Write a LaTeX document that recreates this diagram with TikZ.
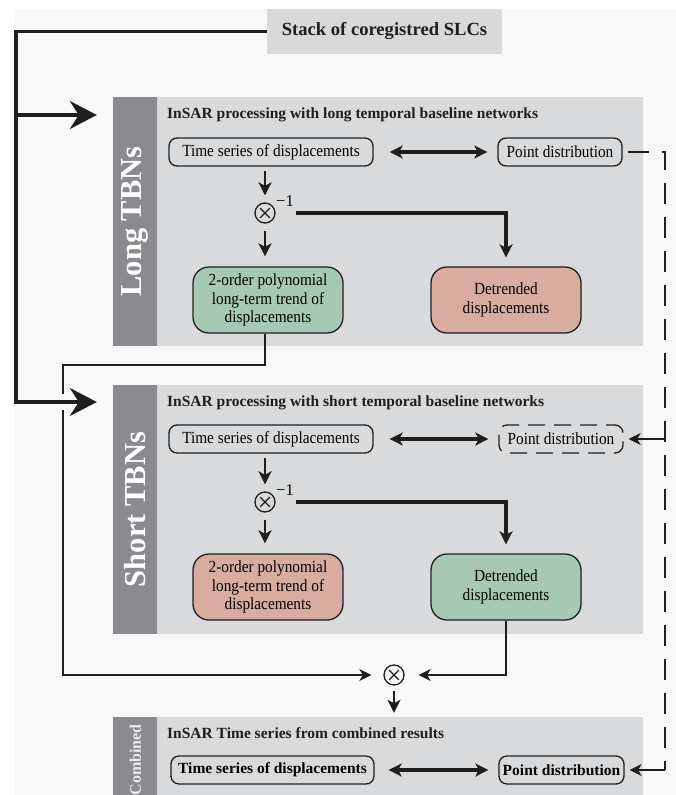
\documentclass[tikz,border=0pt]{standalone}
\usepackage{fontspec}
\setmainfont{Liberation Serif}
\newfontfamily\condfont{Liberation Serif}[FakeStretch=0.9]
\usetikzlibrary{arrows.meta,calc}
\definecolor{bgc}{HTML}{F8F8F8}
\definecolor{panelc}{HTML}{D8DADC}
\definecolor{sidec}{HTML}{8B8B8F}
\definecolor{topc}{HTML}{D8D9DB}
\definecolor{greenc}{HTML}{A8C8B6}
\definecolor{pinkc}{HTML}{D9ACA2}
\definecolor{linec}{HTML}{1E1E1E}
\tikzset{
  panel/.style={fill=panelc, draw=none, minimum width=530pt, inner sep=0pt},
  sidebar/.style={fill=sidec, draw=none, minimum width=44pt, inner sep=0pt},
  sidetext/.style={rotate=90, text=white, font=\bfseries\fontsize{30.5}{32}\selectfont, inner sep=0pt},
  titletext/.style={anchor=west, inner sep=0pt, font=\bfseries\fontsize{15.5}{18}\selectfont, text=linec},
  tsbox/.style={draw=linec, line width=1.3pt, rounded corners=8pt, minimum width=204pt, minimum height=28pt, inner sep=0pt, font=\condfont\fontsize{17}{19}\selectfont},
  pdbox/.style={tsbox, minimum width=124pt},
  resbox/.style={draw=linec, line width=1.3pt, rounded corners=16pt, minimum width=150pt, minimum height=66pt, inner sep=0pt, align=center, font=\condfont\fontsize{17}{18.5}\selectfont},
  otimesnode/.style={circle, draw=linec, line width=1.3pt, minimum size=20pt, inner sep=0pt,
    path picture={
      \draw[line width=1.3pt, linec] ([shift={(-4.8pt,-4.8pt)}]path picture bounding box.center) -- ([shift={(4.8pt,4.8pt)}]path picture bounding box.center);
      \draw[line width=1.3pt, linec] ([shift={(-4.8pt,4.8pt)}]path picture bounding box.center) -- ([shift={(4.8pt,-4.8pt)}]path picture bounding box.center);
    }},
  expo/.style={anchor=west, inner sep=0pt, font=\fontsize{16.5}{16.5}\selectfont},
  bigline/.style={draw=linec, line width=3.2pt},
  bigarrow/.style={bigline, -{Stealth[length=27pt, width=28pt, inset=9pt]}},
  downarrow/.style={draw=linec, line width=2.6pt, -{Stealth[length=13pt, width=13pt, inset=3.5pt]}},
  dblarrow/.style={draw=linec, line width=3.2pt, {Stealth[length=13pt, width=13pt, inset=3.5pt]}-{Stealth[length=13pt, width=13pt, inset=3.5pt]}},
  thinarrow/.style={draw=linec, line width=1.7pt, -{Stealth[length=12pt, width=12pt, inset=3.5pt]}},
  dashline/.style={draw=linec, line width=2.6pt, dash pattern=on 21pt off 13pt},
}
\begin{document}
\begin{tikzpicture}[x=1pt,y=-1pt]
\useasboundingbox (0,0) rectangle (676,795);
\fill[bgc] (15,9) rectangle (676,795);

% top box
\node[fill=topc, minimum width=235pt, minimum height=45pt, inner sep=0pt, font=\bfseries\fontsize{18.6}{22}\selectfont, text=linec] (stack) at (384.5,31.5) {Stack of coregistred SLCs};

% panels
\node[panel, minimum height=249pt] (longp) at (378,221.5) {};
\node[sidebar, minimum height=249pt] (longs) at (135,221.5) {};
\node[sidetext] (longlbl) at (longs.center) {Long TBNs};
\node[panel, minimum height=249pt] (shortp) at (378,509.5) {};
\node[sidebar, minimum height=249pt] (shorts) at (135,509.5) {};
\node[sidetext] (shortlbl) at (shorts.center) {Short TBNs};
\node[panel, minimum height=78pt] (combp) at (378,756) {};
\node[sidebar, minimum height=78pt] (combs) at (135,756) {};
\node[sidetext, font=\bfseries\fontsize{16}{16}\selectfont, text=white!92!black, anchor=east] (comblbl) at (135.5,724) {Combined};

% titles
\node[titletext] (t1) at (167,115) {InSAR processing with long temporal baseline networks};
\node[titletext] (t2) at (167,403) {InSAR processing with short temporal baseline networks};
\node[titletext] (t3) at (167,733) {InSAR Time series from combined results};

% long TBNs contents
\node[tsbox] (ts1) at (271,152) {Time series of displacements};
\node[pdbox] (pd1) at (560,152) {Point distribution};
\node[otimesnode] (x1) at (265,213) {};
\node[expo] (e1) at (276,201) {−1};
\node[resbox, fill=greenc] (tr1) at (268,300) {2-order polynomial\\long-term trend of\\displacements};
\node[resbox, fill=pinkc] (de1) at (506,300) {Detrended\\displacements};

% short TBNs contents
\node[tsbox] (ts2) at (271,439) {Time series of displacements};
\node[pdbox, dash pattern=on 17pt off 9pt, dash phase=8pt] (pd2) at (561,439) {Point distribution};
\node[otimesnode] (x2) at (265,502) {};
\node[expo] (e2) at (276,490) {−1};
\node[resbox, fill=pinkc] (tr2) at (268,587) {2-order polynomial\\long-term trend of\\displacements};
\node[resbox, fill=greenc] (de2) at (506,587) {Detrended\\displacements};

% combined contents
\node[otimesnode] (x3) at (394,675) {};
\node[tsbox, font=\bfseries\fontsize{15.5}{18}\selectfont, minimum width=203pt] (ts3) at (272.5,770) {Time series of displacements};
\node[pdbox, font=\bfseries\fontsize{15.5}{18}\selectfont, minimum width=125pt] (pd3) at (561.5,770) {Point distribution};

% coordinates
\coordinate (lcorner) at (16,402);
\coordinate (lbranch) at (16,115);
\coordinate (thincorner) at (63,365);
\coordinate (dtop) at (665,152);
\coordinate (dbot) at (665,770);

% inner arrows, long
\draw[dblarrow, shorten <=16pt, shorten >=10pt] (ts1.east) -- (pd1.west);
\draw[downarrow, shorten <=4pt, shorten >=7pt] (ts1.south -| x1) -- (x1.north);
\draw[downarrow, shorten <=7pt, shorten >=10pt] (x1.south) -- (x1 |- tr1.north);
\draw[bigline, -{Stealth[length=13pt, width=13pt, inset=3.5pt]}, shorten >=9pt] ([xshift=2pt]e1.east |- x1.center) -| (de1.north);

% inner arrows, short
\draw[dblarrow, shorten <=16pt, shorten >=10pt] (ts2.east) -- (pd2.west);
\draw[downarrow, shorten <=4pt, shorten >=7pt] (ts2.south -| x2) -- (x2.north);
\draw[downarrow, shorten <=7pt, shorten >=10pt] (x2.south) -- (x2 |- tr2.north);
\draw[bigline, -{Stealth[length=13pt, width=13pt, inset=3.5pt]}, shorten >=9pt] ([xshift=2pt]e2.east |- x2.center) -| (de2.north);

% combined arrows
\draw[dblarrow, shorten <=14pt, shorten >=10pt] (ts3.east) -- (pd3.west);
\draw[thinarrow, shorten >=12pt] (tr1.south -| x1) -- (x1 |- thincorner) -- (thincorner) |- (x3.west);
\draw[thinarrow, shorten >=14pt] (de2.south) |- (x3.east);
\draw[downarrow, line width=2pt, shorten <=5pt, shorten >=4pt] (x3.south) -- (x3 |- combp.north);

% gap in thin line where the big arrow crosses
\draw[bgc, line width=5pt] (63,394) -- (63,410);

% big input lines
\draw[bigarrow, shorten >=16pt] (stack.west) -| (lcorner) -- (lcorner -| shortp.west);
\draw[bigarrow, shorten >=16pt] (lbranch) -- (lbranch -| longp.west);

% dashed point distribution link
\draw[dashline, shorten <=5pt] (pd1.east) -- (dtop) -- (dbot);
\draw[thinarrow, line width=2pt, shorten >=5pt] (dtop |- pd2.east) -- (pd2.east);
\draw[thinarrow, line width=2pt, shorten >=5pt] (dbot) -- (pd3.east);
\end{tikzpicture}
\end{document}
